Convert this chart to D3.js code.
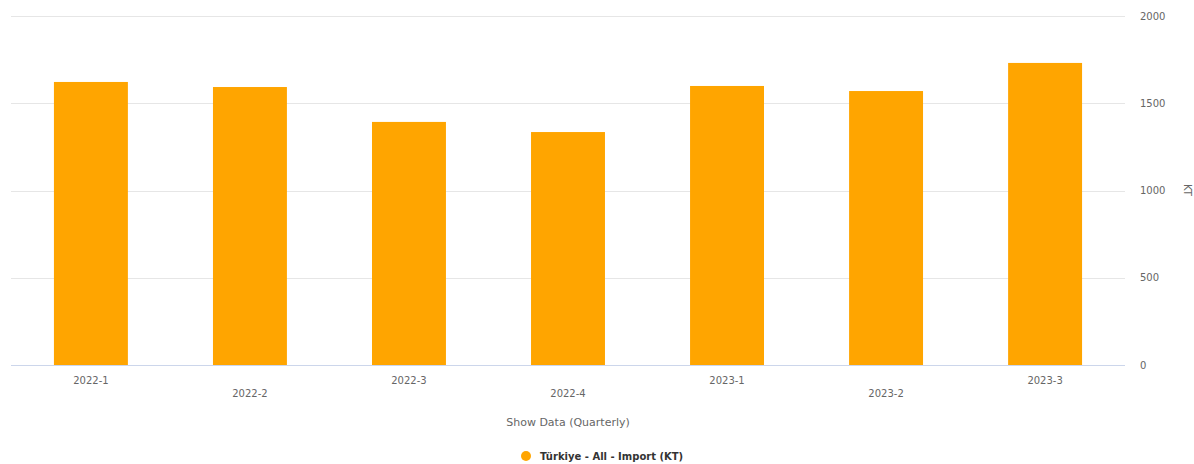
<!DOCTYPE html>
<html>
<head>
<meta charset="utf-8">
<script src="https://cdn.jsdelivr.net/npm/d3@7"></script>
<style>
  html, body { margin: 0; padding: 0; background: #fff; }
  svg { display: block; font-family: "DejaVu Sans", "Open Sans", sans-serif; }
</style>
</head>
<body>
<svg id="chart" width="1194" height="464"></svg>
<script>
// Quarterly import volumes (KT)
const categories = ["2022-1", "2022-2", "2022-3", "2022-4", "2023-1", "2023-2", "2023-3"];
const importValues = [1622, 1593, 1393, 1335, 1599, 1570, 1731];
const yTicks = [0, 500, 1000, 1500, 2000];
const seriesName = "Türkiye - All - Import (KT)";
const xTitle = "Show Data (Quarterly)";
const yTitle = "KT";

(function draw() {
  const svg = d3.select("#chart");
  const plotLeft = 11, plotRight = 1125, plotTop = 16, plotBottom = 365;
  const barColor = "#ffa500";

  const x = d3.scaleBand().domain(categories).range([plotLeft, plotRight]).paddingInner(0.535).paddingOuter(0.27);
  const y = d3.scaleLinear().domain([0, 2000]).range([plotBottom, plotTop]);

  // grid lines
  svg.append("g").selectAll("line").data(yTicks.filter(d => d > 0)).join("line")
    .attr("x1", plotLeft).attr("x2", plotRight)
    .attr("y1", d => Math.round(y(d)) + 0.5).attr("y2", d => Math.round(y(d)) + 0.5)
    .attr("stroke", "#e6e6e6").attr("stroke-width", 1);

  // bars
  svg.append("g").selectAll("rect").data(categories).join("rect")
    .attr("x", d => x(d))
    .attr("width", x.bandwidth())
    .attr("y", (d, i) => y(importValues[i]))
    .attr("height", (d, i) => y(0) - y(importValues[i]))
    .attr("fill", barColor);

  // x axis baseline
  svg.append("line").attr("x1", plotLeft).attr("x2", plotRight)
    .attr("y1", plotBottom + 0.5).attr("y2", plotBottom + 0.5)
    .attr("stroke", "#ccd6eb").attr("stroke-width", 1);

  // x labels, staggered on two rows
  svg.append("g").selectAll("text").data(categories).join("text")
    .attr("x", d => x(d) + x.bandwidth() / 2)
    .attr("y", (d, i) => i % 2 === 0 ? 384 : 397)
    .attr("text-anchor", "middle")
    .attr("font-size", 10).attr("fill", "#666")
    .text(d => d);

  // right y axis labels
  const yAxis = d3.axisRight(y).tickValues(yTicks).tickSize(0).tickPadding(0).tickFormat(d3.format("d"));
  const gy = svg.append("g").attr("transform", "translate(1140,0)").call(yAxis);
  gy.select(".domain").remove();
  gy.selectAll("text").attr("font-size", 10).attr("fill", "#666")
    .attr("font-family", "DejaVu Sans, sans-serif");

  // y axis title
  svg.append("text")
    .attr("transform", "translate(1184,190) rotate(90)")
    .attr("text-anchor", "middle")
    .attr("font-size", 10).attr("fill", "#666")
    .text(yTitle);

  // x axis title
  svg.append("text")
    .attr("x", 568).attr("y", 426)
    .attr("text-anchor", "middle")
    .attr("font-size", 11).attr("fill", "#666")
    .text(xTitle);

  // legend
  const lg = svg.append("g").attr("transform", "translate(526,456)");
  lg.append("circle").attr("r", 5).attr("fill", barColor);
  lg.append("text").attr("x", 14).attr("y", 3.5)
    .attr("font-size", 10).attr("font-weight", "bold").attr("fill", "#333")
    .text(seriesName);
})();
</script>
</body>
</html>
